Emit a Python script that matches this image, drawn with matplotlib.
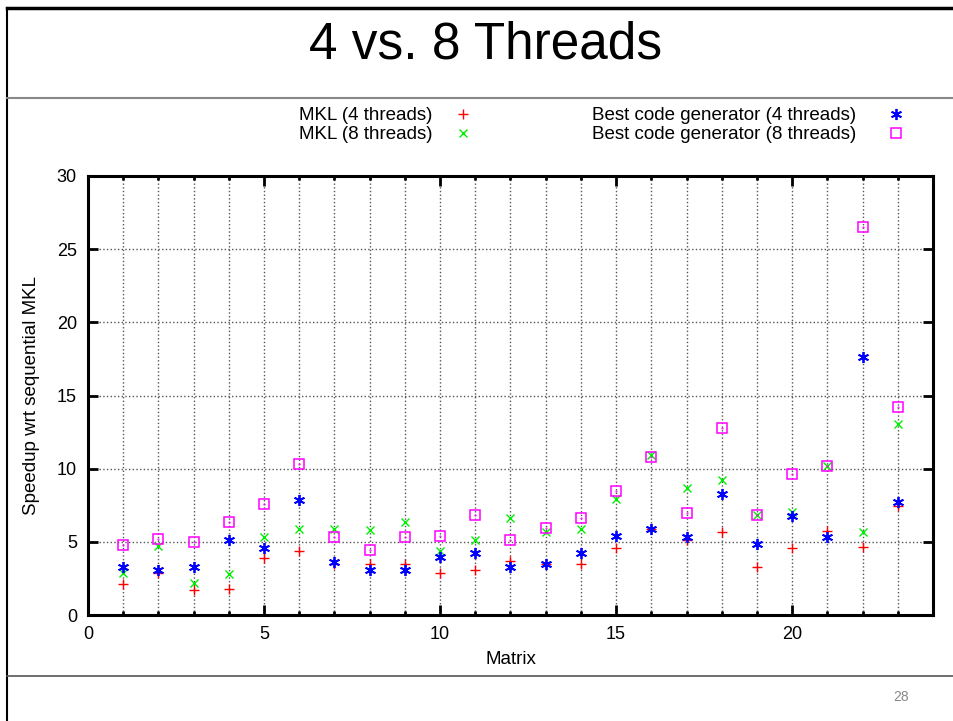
import matplotlib.pyplot as plt
from matplotlib.lines import Line2D
import numpy as np

matrix = list(range(1, 24))

mkl_4 = [2.1, 2.9, 1.7, 1.8, 3.9, 4.4, 3.5, 3.5, 3.5, 2.9, 3.1, 3.7, 3.5, 3.5,
         4.6, 5.9, 5.1, 5.7, 3.3, 4.55, 5.75, 4.65, 7.45]
mkl_8 = [2.9, 4.7, 2.2, 2.8, 5.35, 5.85, 5.9, 5.8, 6.35, 4.4, 5.1, 6.6, 5.7, 5.9,
         7.95, 10.9, 8.65, 9.2, 6.8, 7.05, 10.2, 5.7, 13.05]
best_4 = [3.25, 3.1, 3.25, 5.1, 4.55, 7.85, 3.6, 3.05, 3.1, 3.95, 4.25, 3.3, 3.5, 4.25,
          5.4, 5.9, 5.35, 8.25, 4.85, 6.75, 5.3, 17.6, 7.75]
best_8 = [4.8, 5.2, 5.0, 6.35, 7.6, 10.35, 5.3, 4.45, 5.3, 5.4, 6.8, 5.15, 5.95, 6.65,
          8.45, 10.8, 7.0, 12.8, 6.85, 9.65, 10.2, 26.5, 14.2]

labels = ["MKL (4 threads)", "MKL (8 threads)",
          "Best code generator (4 threads)", "Best code generator (8 threads)"]

plt.rcParams['font.family'] = ['Liberation Sans', 'DejaVu Sans']

fig = plt.figure(figsize=(9.54, 7.21), dpi=100)

# slide frame
fig.add_artist(Line2D([7 / 954, 1], [1 - 8 / 721, 1 - 8 / 721], color='black', lw=2.5))
fig.add_artist(Line2D([7 / 954, 7 / 954], [0, 1 - 8 / 721], color='black', lw=1.5))
fig.add_artist(Line2D([7 / 954, 1], [1 - 98 / 721, 1 - 98 / 721], color='#888888', lw=1.5))
fig.add_artist(Line2D([7 / 954, 1], [1 - 676 / 721, 1 - 676 / 721], color='#555555', lw=1.2))
fig.text(486 / 954, 1 - 45 / 721, "4 vs. 8 Threads", ha='center', va='center',
         fontsize=37)
fig.text(901 / 954, 1 - 697 / 721, "28", ha='center', va='center', fontsize=10,
         color='#888888')

ax = fig.add_axes([88 / 954, 1 - 615 / 721, (933 - 88) / 954, (615 - 176) / 721])

h1, = ax.plot(matrix, mkl_4, ls='none', marker='+', color='#ff0000', ms=7, mew=1)
h2, = ax.plot(matrix, mkl_8, ls='none', marker='x', color='#00ee00', ms=6, mew=1)
h3, = ax.plot(matrix, best_4, ls='none', marker=(6, 2, 0), color='#0000ff', ms=8, mew=1.3)
h4, = ax.plot(matrix, best_8, ls='none', marker='s', color='#ff00ff', ms=7.5, mew=1.1,
              mfc='none')
ax.plot(matrix, best_8, ls='none', marker='.', color='#ff00ff', ms=1)

ax.set_xlim(0, 24)
ax.set_ylim(0, 30)
ax.set_xticks(np.arange(0, 25, 5))
ax.set_xticks(np.arange(0, 25, 1), minor=True)
ax.set_yticks(np.arange(0, 31, 5))
ax.grid(True, which='major', axis='y', ls=':', color='#555555', lw=1)
ax.grid(True, which='both', axis='x', ls=':', color='#555555', lw=1)
ax.tick_params(which='major', direction='in', length=7, width=2, top=True, right=True,
               labelsize=13, pad=8)
ax.tick_params(which='minor', direction='in', length=3, width=2, top=True, right=True)
for s in ax.spines.values():
    s.set_linewidth(2.2)
ax.set_xlabel("Matrix", fontsize=13.5, labelpad=6)
ax.set_ylabel("Speedup wrt sequential MKL", fontsize=13.5, labelpad=12)

# gnuplot style key: two columns, text then marker
leg1 = fig.legend([h1, h2], labels[:2], markerfirst=False, frameon=False,
                  fontsize=13.5, loc='upper left', bbox_to_anchor=(299 / 954, 1 - 107 / 721),
                  borderpad=0, borderaxespad=0, handlelength=1, handletextpad=1.1,
                  labelspacing=0.1)
fig.legend([h3, h4], labels[2:], markerfirst=False, frameon=False,
           fontsize=13.5, loc='upper left', bbox_to_anchor=(592 / 954, 1 - 107 / 721),
           borderpad=0, borderaxespad=0, handlelength=1, handletextpad=1.6,
           labelspacing=0.1)

fig.savefig("out.png", dpi=100)
